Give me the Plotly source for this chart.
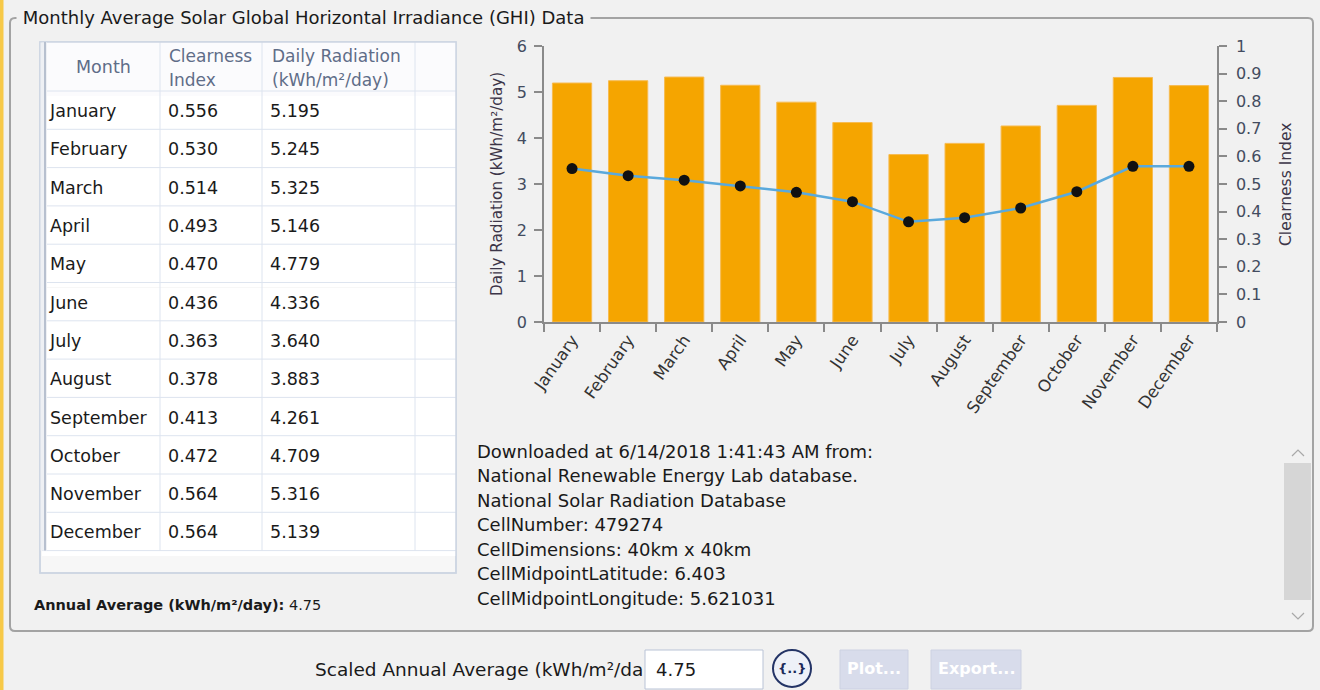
import plotly.graph_objects as go

months = ["January", "February", "March", "April", "May", "June", "July",
          "August", "September", "October", "November", "December"]
clearness = [0.556, 0.530, 0.514, 0.493, 0.470, 0.436, 0.363, 0.378, 0.413, 0.472, 0.564, 0.564]
radiation = [5.195, 5.245, 5.325, 5.146, 4.779, 4.336, 3.640, 3.883, 4.261, 4.709, 5.316, 5.139]
annual_avg = 4.75
info_lines = [
    "Downloaded at 6/14/2018 1:41:43 AM from:",
    "National Renewable Energy Lab database.",
    "National Solar Radiation Database",
    "CellNumber: 479274",
    "CellDimensions: 40km x 40km",
    "CellMidpointLatitude: 6.403",
    "CellMidpointLongitude: 5.621031",
]

W, H = 1320, 690
FONT = "DejaVu Sans"
BG = "#f1f1f1"
GRID = "#dde4ef"


def px(x):
    return x / W


def py(y):
    return 1 - y / H


fig = go.Figure()

# Table (header labels drawn as annotations below, rows via go.Table)
ROW_TOP, HEAD_H, ROW_H = 42, 49, 38.3
fig.add_trace(go.Table(
    domain=dict(x=[px(42), px(456)], y=[py(573), py(ROW_TOP + 5)]),
    columnwidth=[118, 102, 153, 41],
    header=dict(
        values=["", "", "", ""],
        fill_color="#fbfbfd",
        line=dict(color="rgba(0,0,0,0)", width=0),
        height=HEAD_H,
    ),
    cells=dict(
        values=[months, [f"{v:.3f}" for v in clearness], [f"{v:.3f}" for v in radiation], [""] * 12],
        align="left",
        fill_color="white",
        line=dict(color="rgba(0,0,0,0)", width=0),
        font=dict(family=FONT, size=17.5, color="#1a1a1a"),
        height=ROW_H,
    ),
))

# Bars
fig.add_trace(go.Bar(
    x=months, y=radiation, marker=dict(color="#f5a500", line=dict(color="#f7bb50", width=1)),
    xaxis="x", yaxis="y", showlegend=False,
))
# Clearness line
fig.add_trace(go.Scatter(
    x=months, y=clearness, mode="lines+markers",
    line=dict(color="#5aa9dc", width=2.5),
    marker=dict(color="#111111", size=11),
    xaxis="x", yaxis="y2", showlegend=False,
))

axis_common = dict(showgrid=False, zeroline=False, showline=True, linecolor="#8a8a8a", linewidth=1.5,
                   ticks="outside", ticklen=8, tickcolor="#8a8a8a", tickwidth=1.5, automargin=False,
                   tickfont=dict(family=FONT, size=16, color="#434c60"))

fig.update_layout(
    width=W, height=H,
    margin=dict(l=0, r=0, t=0, b=0, pad=0),
    paper_bgcolor=BG, plot_bgcolor=BG,
    bargap=0.3,
    xaxis=dict(domain=[px(544), px(1217)], anchor="y", tickson="boundaries", tickangle=-55,
               range=[-0.5, len(months) - 0.5],
               **{**axis_common, "tickfont": dict(family=FONT, size=16.5, color="#333333")}),
    yaxis=dict(domain=[py(322), py(46)], range=[0, 6], dtick=1, anchor="x", ticklabelstandoff=4,
               **axis_common),
    yaxis2=dict(domain=[py(322), py(46)], range=[0, 1], dtick=0.1, overlaying="y", side="right",
                anchor="x", ticklabelstandoff=6, **axis_common),
)

shapes = []


def rect(x0, y0, x1, y1, fill, line_color=None, lw=0, layer="below"):
    shapes.append(dict(type="rect", xref="paper", yref="paper", x0=px(x0), x1=px(x1), y0=py(y1), y1=py(y0),
                       fillcolor=fill, line=dict(color=line_color or fill, width=lw), layer=layer))


def hline(x0, x1, y, color, w=1, layer="above"):
    shapes.append(dict(type="line", xref="paper", yref="paper", x0=px(x0), x1=px(x1), y0=py(y), y1=py(y),
                       line=dict(color=color, width=w), layer=layer))


def vline(x, y0, y1, color, w=1, layer="above"):
    shapes.append(dict(type="line", xref="paper", yref="paper", x0=px(x), x1=px(x), y0=py(y0), y1=py(y1),
                       line=dict(color=color, width=w), layer=layer))


# left yellow stripe
rect(0, 0, 3.5, 690, "#f7c948")
# group box (rounded)
x0, x1, y0, y1, r = 10, 1313, 18, 631, 5
path = (f"M {px(x0 + r)},{py(y0)} L {px(x1 - r)},{py(y0)} Q {px(x1)},{py(y0)} {px(x1)},{py(y0 + r)} "
        f"L {px(x1)},{py(y1 - r)} Q {px(x1)},{py(y1)} {px(x1 - r)},{py(y1)} "
        f"L {px(x0 + r)},{py(y1)} Q {px(x0)},{py(y1)} {px(x0)},{py(y1 - r)} "
        f"L {px(x0)},{py(y0 + r)} Q {px(x0)},{py(y0)} {px(x0 + r)},{py(y0)} Z")
shapes.append(dict(type="path", xref="paper", yref="paper", path=path,
                   line=dict(color="#a3a3a3", width=2), layer="below"))
# table frame + header background
rect(40, 42, 456, 573, "#f7f7f7", "#cdd5e2", 1.5)
rect(42, 42, 456, 91, "#fbfbfd", layer="above")
# table grid
row_lines = [ROW_TOP + HEAD_H + i * ROW_H for i in range(13)]
for y in row_lines:
    hline(42, 456, y, GRID)
for x in [160, 262, 415]:
    vline(x, 42, row_lines[-1], GRID)
rect(40, 42, 456, 573, "rgba(0,0,0,0)", "#cdd5e2", 1.5, layer="above")
rect(40.5, 42.5, 47, row_lines[-1], "#eef0f4", layer="above")
vline(45, 42, row_lines[-1], "#b7c0cf", 2)

# scrollbar
rect(1284, 463, 1311, 600, "#d6d6d6")
shapes.append(dict(type="path", xref="paper", yref="paper",
                   path=f"M {px(1292)},{py(456)} L {px(1298)},{py(450)} L {px(1304)},{py(456)}",
                   line=dict(color="#a8a8a8", width=1.2), layer="above"))
shapes.append(dict(type="path", xref="paper", yref="paper",
                   path=f"M {px(1292)},{py(613)} L {px(1298)},{py(619)} L {px(1304)},{py(613)}",
                   line=dict(color="#a8a8a8", width=1.2), layer="above"))
# bottom controls
rect(645, 650, 763, 689, "white", "#b9c3d6", 1)
shapes.append(dict(type="circle", xref="paper", yref="paper", x0=px(773), x1=px(811), y0=py(687), y1=py(650),
                   fillcolor="#eef1f8", line=dict(color="#243466", width=2), layer="below"))
rect(840, 650, 908, 689, "#d8dceb", "#ccd1e2", 1)
rect(931, 650, 1021, 689, "#d8dceb", "#ccd1e2", 1)
fig.update_layout(shapes=shapes)

ann = []


def text(x, y, s, size=17, color="#1a1a1a", xanchor="left", **kw):
    ann.append(dict(x=px(x), y=py(y), xref="paper", yref="paper", text=s, showarrow=False,
                    xanchor=xanchor, yanchor="middle",
                    font=dict(family=FONT, size=size, color=color), **kw))


text(16, 17, " Monthly Average Solar Global Horizontal Irradiance (GHI) Data ", size=18,
     color="#1a1a1a", bgcolor=BG, borderpad=0)
# table header labels
HC = "#5f6d88"
text(103, 67, "Month", size=17.5, color=HC, xanchor="center")
text(167, 56, "Clearness", size=17, color=HC)
text(167, 80, "Index", size=17, color=HC)
text(270, 56, "Daily Radiation", size=17, color=HC)
text(270, 80, "(kWh/m²/day)", size=17, color=HC)

text(32, 605, f"<b>Annual Average (kWh/m²/day):</b> {annual_avg:.2f}", size=14.5)
for i, line in enumerate(info_lines):
    text(475, 451 + i * 24.5, line, size=18)
text(497, 184, "Daily Radiation (kWh/m²/day)", size=15.2, color="#3c3548", xanchor="center", textangle=-90)
text(1286, 185, "Clearness Index", size=15.5, color="#3c3548", xanchor="center", textangle=-90)
text(645, 669, "Scaled Annual Average (kWh/m²/da", size=18.5, color="#1a1a1a", xanchor="right")
text(654, 669, f"{annual_avg:.2f}", size=18)
text(792, 668, "<b>{..}</b>", size=13, color="#1c2a5a", xanchor="center")
text(874, 668, "<b>Plot...</b>", size=16, color="white", xanchor="center")
text(976, 668, "<b>Export...</b>", size=16, color="white", xanchor="center")
fig.update_layout(annotations=ann)

fig.write_html("out.html", config={"displayModeBar": False},
               post_script="document.body.style.margin='0';")
